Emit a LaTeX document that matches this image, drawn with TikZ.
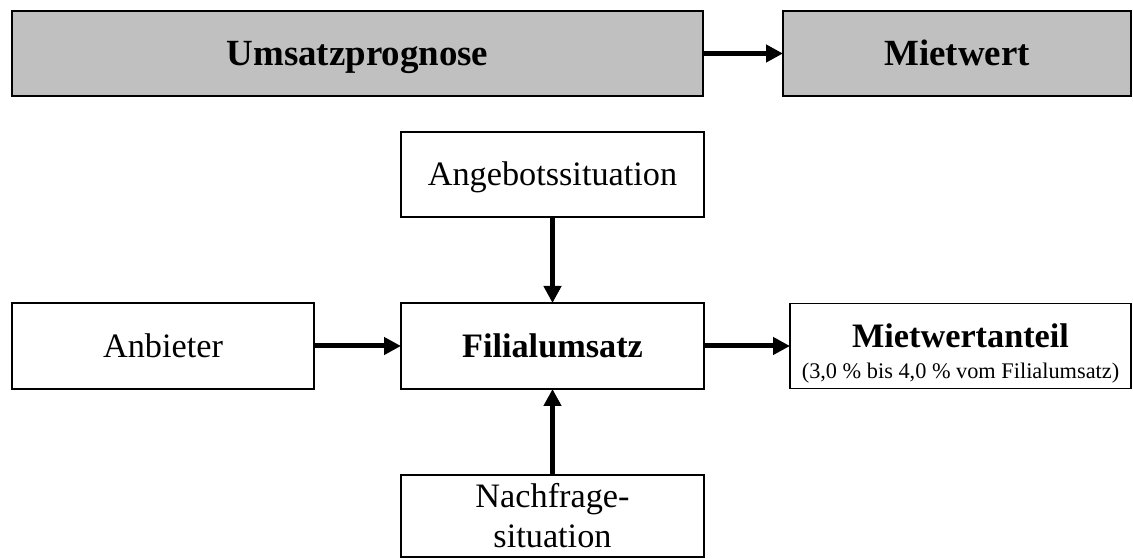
\documentclass[tikz,border=0pt]{standalone}
\usepackage{fontspec}
\setmainfont{Liberation Serif}
\usepackage{tikz}
\usetikzlibrary{positioning,arrows.meta}

\definecolor{boxgray}{RGB}{192,192,192}

\begin{document}
\begin{tikzpicture}[
        box/.style={draw, rectangle, line width=1.1pt, outer sep=0pt, inner sep=0pt,
            minimum width=6.06cm, minimum height=1.70cm, align=center,
            font=\fontsize{19.5}{22.7}\selectfont},
        oneline/.style={text height=12.9pt, text depth=0pt},
        headbox/.style={box, fill=boxgray, text height=13.9pt, text depth=0pt,
            font=\fontsize{21}{24}\selectfont\bfseries},
        arrow/.style={-{Triangle[length=0.34cm, width=0.34cm]}, line width=0.1cm}
    ]
        \useasboundingbox (0,0) rectangle (22.66,-11.18);

        % Kopfzeile
        \node (prog) [headbox, minimum width=13.82cm] at (7.15,-1.07) {Umsatzprognose};
        \node (miet) [headbox, minimum width=6.96cm] at (19.14,-1.07) {Mietwert};
        \draw [arrow] (prog) -- (miet);

        % Einflussgroessen
        \node (ang) [box, oneline] at (11.05,-3.49) {Angebotssituation};
        \node (fil) [box, oneline, minimum height=1.72cm, font=\fontsize{19.5}{22.7}\selectfont\bfseries] at (11.05,-6.92) {Filialumsatz};
        \node (anb) [box, oneline, minimum width=6.04cm, minimum height=1.72cm] at (3.26,-6.92) {Anbieter};
        \node (mwa) [box, minimum width=6.82cm] at (19.21,-6.92)
            {\rule{0pt}{22pt}{\bfseries Mietwertanteil}\\[-5pt]{\fontsize{12.7}{15}\selectfont (3,0 \% bis 4,0 \% vom Filialumsatz)}};
        \node (nach) [box, minimum height=1.64cm] at (11.05,-10.32) {Nachfrage-\\situation};

        \draw [arrow] (ang) -- (fil);
        \draw [arrow] (anb) -- (fil);
        \draw [arrow] (fil) -- (mwa);
        \draw [arrow] (nach) -- (fil);
    \end{tikzpicture}
\end{document}
